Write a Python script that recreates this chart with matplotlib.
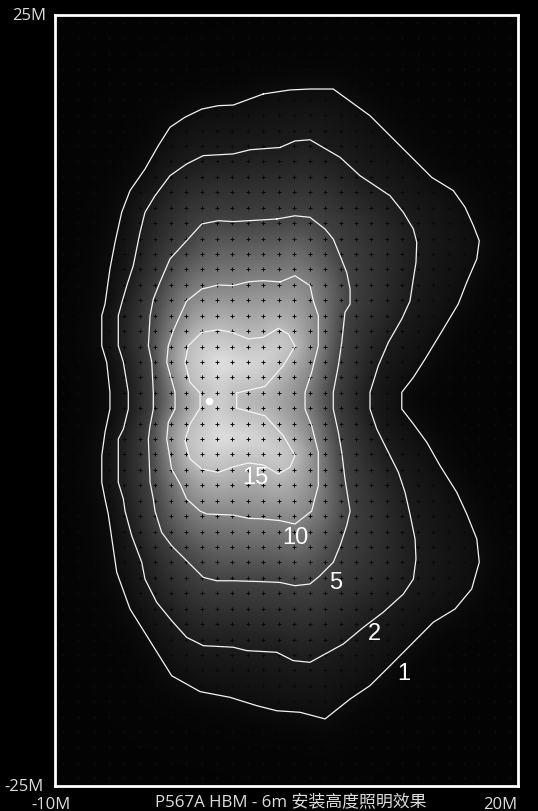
import numpy as np
import matplotlib
matplotlib.use("Agg")
import matplotlib.pyplot as plt
from matplotlib.path import Path

# isolux levels (lx) and their traced outlines, metres
levels = [1, 2, 5, 10, 15]

c1_x = [3.50, 5.23, 6.52, 8.03, 10.41, 11.71, 13.22, 14.41, 15.81, 16.57, 17.11, 17.49, 17.33, 16.68,
        16.13, 15.16, 13.98, 13.22, 12.47, 12.47, 13.22, 14.09, 14.95, 16.03, 16.68, 17.33, 17.49,
        17.00, 15.92, 14.51, 13.22, 11.71, 10.41, 9.12, 7.50, 5.88, 4.37, 3.07, 1.34, -0.60, -2.44,
        -4.06, -5.14, -6.00, -6.55, -6.76, -6.97, -6.97, -6.76, -6.44, -6.44, -6.65, -6.97, -6.97,
        -6.76, -6.44, -6.11, -5.68, -5.14, -4.17, -3.31, -2.55, -1.58, -0.49, 0.58, 1.55]
c1_y = [19.88, 20.14, 20.20, 20.20, 18.47, 17.17, 15.66, 14.47, 13.61, 12.53, 11.34, 10.36, 9.18, 7.67,
        6.26, 4.64, 2.69, 1.50, 0.53, -0.55, -1.52, -2.71, -4.23, -5.95, -7.36, -8.98, -10.49,
        -12.22, -13.52, -14.38, -15.68, -17.20, -18.49, -19.36, -20.65, -20.22, -20.12, -19.79,
        -19.25, -18.88, -17.85, -15.25, -13.52, -11.14, -7.36, -6.39, -5.30, -3.58, -2.06, -0.55,
        0.53, 2.48, 3.55, 5.50, 6.26, 8.53, 10.26, 12.20, 13.61, 15.01, 16.52, 17.72, 18.37, 18.90,
        19.12, 19.16]

c2_x = [4.58, 5.55, 6.52, 8.47, 9.76, 11.71, 12.57, 13.22, 13.44, 13.39, 13.22, 13.00, 12.47, 11.60,
        10.95, 10.41, 10.41, 10.85, 11.49, 12.25, 12.68, 13.00, 13.33, 13.39, 13.22, 12.57, 11.27,
        9.98, 8.68, 6.52, 5.44, 4.37, 2.42, 1.55, -0.39, -1.47, -2.44, -3.41, -4.17, -4.38, -5.03,
        -5.46, -5.57, -5.90, -5.90, -5.57, -5.25, -5.25, -5.57, -5.90, -5.90, -5.64, -5.35, -4.93,
        -4.49, -4.17, -3.52, -2.55, -1.47, -0.39, 1.55, 2.64]
c2_y = [16.41, 16.83, 16.91, 15.77, 14.58, 13.28, 12.20, 11.12, 10.26, 8.96, 7.88, 6.45, 5.29, 3.77,
        2.26, 0.53, -0.55, -1.85, -3.14, -4.66, -5.95, -7.36, -8.98, -10.28, -11.58, -12.55, -13.73,
        -14.71, -15.79, -16.98, -16.87, -16.33, -16.22, -16.00, -15.90, -15.36, -14.28, -13.09,
        -11.58, -10.49, -8.77, -7.17, -6.39, -5.30, -2.50, -1.85, -0.55, 0.53, 2.48, 3.55, 5.50,
        6.45, 7.45, 8.74, 10.91, 12.20, 13.28, 14.58, 15.34, 15.88, 15.99, 16.26]

c5_x = [4.37, 5.55, 6.52, 7.50, 8.03, 8.47, 8.90, 9.12, 9.12, 8.79, 8.58, 8.36, 8.03, 8.03, 8.36, 8.58,
        8.79, 9.12, 8.90, 8.47, 8.03, 7.17, 6.52, 5.55, 4.58, 3.50, 1.55, 0.48, -0.39, -1.47, -2.44,
        -3.09, -3.52, -3.63, -3.84, -3.95, -3.84, -3.63, -3.63, -3.73, -3.95, -3.84, -3.63, -3.20,
        -2.55, -1.47, -0.49, 0.58, 1.55]
c5_y = [11.77, 11.98, 11.88, 11.12, 10.47, 9.39, 8.31, 7.23, 6.26, 5.72, 3.77, 2.26, 0.53, -0.55,
        -2.06, -3.36, -5.09, -7.17, -8.12, -9.42, -10.49, -11.36, -11.90, -12.01, -11.80, -11.75,
        -11.69, -11.69, -11.47, -10.39, -9.42, -8.55, -7.17, -6.39, -5.30, -2.50, -1.63, -0.55, 0.53,
        2.48, 3.55, 5.50, 6.58, 7.67, 9.18, 10.36, 11.45, 11.66, 11.60]

c10_x = [4.58, 5.55, 6.52, 6.74, 7.06, 7.06, 6.63, 6.20, 6.20, 6.63, 7.06, 7.06, 6.63, 5.55, 4.58,
         3.50, 2.53, 1.55, -0.17, -0.60, -1.47, -1.90, -2.44, -2.76, -2.66, -2.22, -2.22, -2.76,
         -2.66, -2.33, -1.90, -1.47, -0.49, 0.58, 1.55, 2.53, 3.50]
c10_y = [7.69, 8.09, 7.45, 6.45, 5.50, 3.55, 1.83, 0.53, -0.55, -1.63, -3.36, -5.52, -7.17, -8.01,
         -7.79, -7.68, -7.64, -7.43, -7.36, -7.17, -6.39, -5.41, -4.44, -2.50, -1.41, -0.55, 0.53,
         2.48, 3.55, 4.53, 5.50, 6.45, 7.23, 7.49, 7.45, 7.70, 7.77]

c15_x = [-0.49, 0.58, 1.45, 2.53, 3.50, 4.47, 5.12, 5.55, 4.79, 3.61, 1.77, 1.77, 3.61, 4.79, 5.55,
         5.23, 4.47, 3.50, 2.53, 1.45, 0.58, -0.49, -1.25, -1.58, -1.25, -0.60, -0.60, -1.25, -1.58,
         -1.36]
c15_y = [4.42, 4.59, 4.42, 3.99, 4.10, 4.68, 4.31, 3.52, 2.26, 0.92, 0.49, -0.50, -0.99, -2.28,
         -3.58, -4.33, -4.77, -4.18, -4.05, -4.33, -4.66, -4.44, -3.79, -2.61, -1.52, -0.50, 0.49,
         1.18, 2.48, 3.55]

outlines = [(c1_x, c1_y), (c2_x, c2_y), (c5_x, c5_y), (c10_x, c10_y), (c15_x, c15_y)]

# where the level numbers sit
label_x = [12.6, 10.7, 8.2, 5.6, 3.0]
label_y = [-17.7, -15.1, -11.8, -8.85, -4.96]

lamp_x, lamp_y = 0.0, 0.0

# lux -> grey shade
shade_lux = [0, 1, 2, 5, 10, 15, 22]
shade_grey = [0.015, 0.055, 0.11, 0.26, 0.52, 0.74, 0.95]


def poly_dist(px, py, xs, ys):
    xs = np.append(xs, xs[0])
    ys = np.append(ys, ys[0])
    d = np.full(px.shape, np.inf)
    for i in range(len(xs) - 1):
        ax_, ay_ = xs[i], ys[i]
        dx, dy = xs[i + 1] - ax_, ys[i + 1] - ay_
        t = np.clip(((px - ax_) * dx + (py - ay_) * dy) / (dx * dx + dy * dy), 0, 1)
        d = np.minimum(d, np.hypot(px - ax_ - t * dx, py - ay_ - t * dy))
    return d


# glow: interpolate between the traced isolux lines by distance
gx = np.linspace(-10, 20, 301)
gy = np.linspace(-25, 25, 501)
GX, GY = np.meshgrid(gx, gy)
px, py = GX.ravel(), GY.ravel()
pts = np.column_stack([px, py])
inside = np.array([Path(np.column_stack([x, y])).contains_points(pts) for x, y in outlines])
dist = np.array([poly_dist(px, py, np.array(x), np.array(y)) for x, y in outlines])
n = inside.sum(axis=0)
E = np.exp(-dist[0] / 1.2)
for k in range(1, 5):
    m = n == k
    lo, hi = levels[k - 1], levels[k]
    E[m] = lo + (hi - lo) * dist[k - 1][m] / (dist[k - 1][m] + dist[k][m])
m = n == 5
E[m] = 15 + np.minimum(2.2 * dist[4][m], 7)
E = E.reshape(GX.shape)

kern = np.exp(-0.5 * (np.arange(-8, 9) / 3.0) ** 2)
kern /= kern.sum()
E = np.apply_along_axis(lambda r: np.convolve(r, kern, mode="same"), 1, E)
E = np.apply_along_axis(lambda c: np.convolve(c, kern, mode="same"), 0, E)
G = np.interp(E, shade_lux, shade_grey)

fig = plt.figure(figsize=(5.38, 8.12), dpi=100, facecolor="black")
ax = fig.add_axes([55 / 538, 1 - 787 / 812, 463 / 538, 771 / 812])
ax.set_facecolor("#050303")
ax.imshow(G, extent=[-10, 20, -25, 25], origin="lower", cmap="gray", vmin=0, vmax=1,
          interpolation="bilinear", aspect="auto")

mx, my = np.meshgrid(np.arange(-9.5, 20, 1.0), np.arange(-24.5, 25, 1.0))
ax.plot(mx.ravel(), my.ravel(), "+", color="#0a0a0a", ms=3.2, mew=0.7)

for x, y in outlines:
    ax.plot(list(x) + [x[0]], list(y) + [y[0]], color="#f4f4f4", lw=0.9)

for lv, tx, ty in zip(levels, label_x, label_y):
    ax.text(tx, ty, str(lv), color="white", fontsize=17, ha="center", va="center",
            family="Liberation Sans")

ax.plot(lamp_x, lamp_y, "o", color="white", ms=5.5, mec="none")

ax.set_xlim(-10, 20)
ax.set_ylim(-25, 25)
ax.set_xticks([])
ax.set_yticks([])
for s in ax.spines.values():
    s.set_color("white")
    s.set_linewidth(2)

tc = "#dcdcdc"
fam = ["Open Sans", "Noto Sans CJK SC"]
ax.annotate("25M", (-10, 25), xytext=(-9, 0), textcoords="offset pixels", ha="right", va="center",
            color=tc, fontsize=12, family=fam, annotation_clip=False)
ax.annotate("-25M", (-10, -25), xytext=(-11, 0), textcoords="offset pixels", ha="right", va="center",
            color=tc, fontsize=12, family=fam, annotation_clip=False)
ax.annotate("-10M", (-10, -25), xytext=(-4, -18), textcoords="offset pixels", ha="center", va="center",
            color=tc, fontsize=12, family=fam, annotation_clip=False)
ax.annotate("20M", (20, -25), xytext=(-18, -18), textcoords="offset pixels", ha="center", va="center",
            color=tc, fontsize=12, family=fam, annotation_clip=False)
ax.annotate("P567A HBM - 6m 安装高度照明效果", (5, -25), xytext=(4, -16), textcoords="offset pixels",
            ha="center", va="center", color=tc, fontsize=12.2, family=fam, annotation_clip=False)

fig.savefig("out.png", dpi=100, facecolor="black")
